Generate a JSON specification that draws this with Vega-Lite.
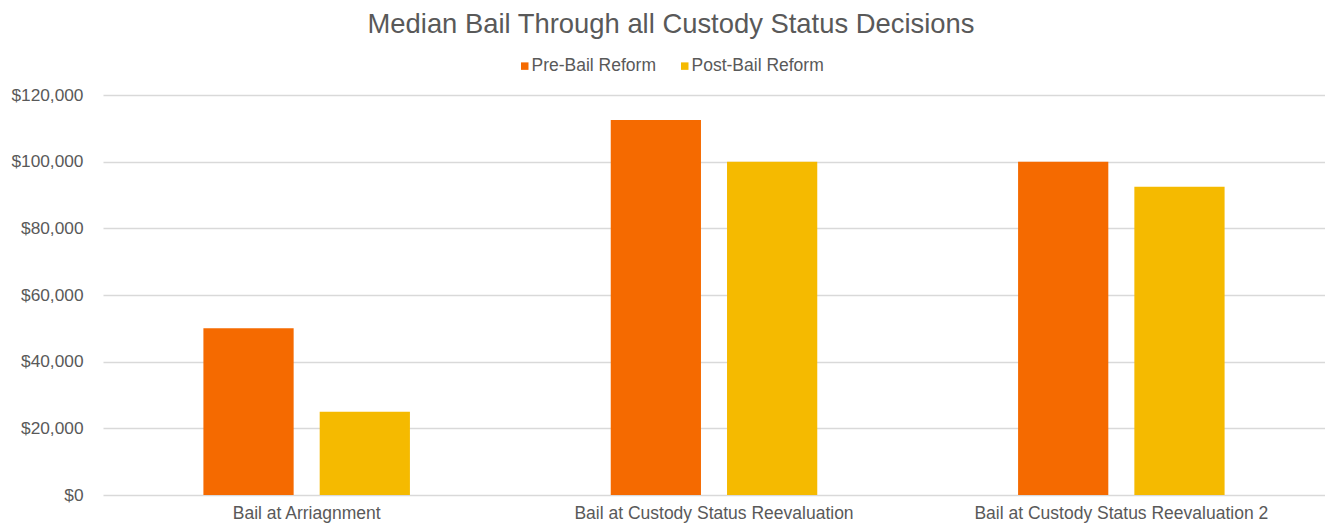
{
  "$schema": "https://vega.github.io/schema/vega-lite/v6.json",
  "autosize": {"type": "none"},
  "width": 1222,
  "height": 400,
  "padding": {"left": 103, "top": 95, "right": 0, "bottom": 32},
  "background": "white",
  "title": {
    "text": "Median Bail Through all Custody Status Decisions",
    "font": "Liberation Sans",
    "fontSize": 27.4,
    "fontWeight": "normal",
    "color": "#595959",
    "anchor": "middle",
    "frame": "group",
    "dx": -43,
    "offset": 19
  },
  "data": {
    "values": [
      {"decision": "Bail at Arriagnment", "period": "Pre-Bail Reform", "bail": 50000},
      {"decision": "Bail at Arriagnment", "period": "Post-Bail Reform", "bail": 25000},
      {"decision": "Bail at Custody Status Reevaluation", "period": "Pre-Bail Reform", "bail": 112500},
      {"decision": "Bail at Custody Status Reevaluation", "period": "Post-Bail Reform", "bail": 100000},
      {"decision": "Bail at Custody Status Reevaluation 2", "period": "Pre-Bail Reform", "bail": 100000},
      {"decision": "Bail at Custody Status Reevaluation 2", "period": "Post-Bail Reform", "bail": 92500}
    ]
  },
  "mark": {"type": "bar"},
  "encoding": {
    "x": {
      "field": "decision",
      "type": "nominal",
      "sort": null,
      "title": null,
      "scale": {"paddingInner": 0.493, "paddingOuter": 0.2465},
      "axis": {
        "labelAngle": 0,
        "labelFont": "Liberation Sans",
        "labelFontSize": 17.5,
        "labelColor": "#595959",
        "labelPadding": 9,
        "labelLimit": 600,
        "ticks": false,
        "domain": false,
        "grid": false
      }
    },
    "xOffset": {
      "field": "period",
      "type": "nominal",
      "sort": ["Pre-Bail Reform", "Post-Bail Reform"],
      "scale": {"paddingInner": 0.224, "paddingOuter": 0}
    },
    "y": {
      "field": "bail",
      "type": "quantitative",
      "title": null,
      "scale": {"domain": [0, 120000]},
      "axis": {
        "values": [0, 20000, 40000, 60000, 80000, 100000, 120000],
        "format": "$,.0f",
        "labelFont": "Liberation Sans",
        "labelFontSize": 17.3,
        "labelColor": "#595959",
        "labelPadding": 20,
        "ticks": false,
        "domain": false,
        "gridColor": "#D9D9D9",
        "gridWidth": 1.3
      }
    },
    "color": {
      "field": "period",
      "type": "nominal",
      "sort": ["Pre-Bail Reform", "Post-Bail Reform"],
      "scale": {"domain": ["Pre-Bail Reform", "Post-Bail Reform"], "range": ["#F56A00", "#F5BA00"]},
      "legend": {
        "title": null,
        "orient": "none",
        "direction": "horizontal",
        "legendX": 413,
        "legendY": -38,
        "symbolType": "square",
        "symbolSize": 56,
        "symbolOpacity": 1,
        "symbolStrokeWidth": 0,
        "labelFont": "Liberation Sans",
        "labelFontSize": 17.5,
        "labelColor": "#595959",
        "labelOffset": -2,
        "columnPadding": 20
      }
    }
  },
  "config": {"view": {"stroke": null}}
}
